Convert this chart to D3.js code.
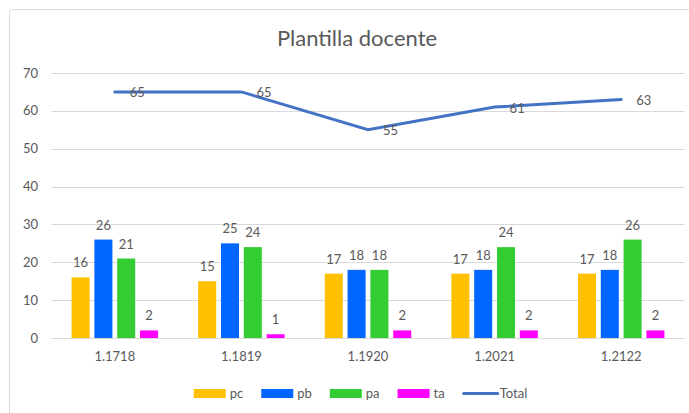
<!DOCTYPE html>
<html>
<head>
<meta charset="utf-8">
<script src="https://cdn.jsdelivr.net/npm/d3@7"></script>
<style>
  body { margin: 0; background: #fff; }
  text { font-family: Lato, "Noto Sans", sans-serif; fill: #595959; }
</style>
</head>
<body>
<script>
/** Data */
const categories = ["1.1718", "1.1819", "1.1920", "1.2021", "1.2122"];
const seriesNames = ["pc", "pb", "pa", "ta"];
const pc = [16, 15, 17, 17, 17];
const pb = [26, 25, 18, 18, 18];
const pa = [21, 24, 18, 24, 26];
const ta = [2, 1, 2, 2, 2];
const total = [65, 65, 55, 61, 63];
const yTicks = [0, 10, 20, 30, 40, 50, 60, 70];

const width = 689;
const height = 413;
const colors = { pc: "#FFC000", pb: "#0066FF", pa: "#33CC33", ta: "#FF00FF", Total: "#4472C4" };
const seriesValues = { pc: pc, pb: pb, pa: pa, ta: ta };

const svg = d3.select("body").append("svg")
  .attr("width", width)
  .attr("height", height);

// chart area border
svg.append("rect")
  .attr("x", 9.5).attr("y", 9.5)
  .attr("width", width + 10).attr("height", height + 10)
  .attr("rx", 3)
  .attr("fill", "#fff")
  .attr("stroke", "#d9d9d9");

svg.append("text")
  .attr("x", 357).attr("y", 46)
  .attr("text-anchor", "middle")
  .attr("font-size", "22px")
  .text("Plantilla docente");

const x0 = d3.scaleBand().domain(categories).range([51.5, 684.5]);
const x1 = d3.scaleBand().domain(seriesNames)
  .range([0, x0.bandwidth()])
  .paddingInner(0.21)
  .paddingOuter(0.88);
const y = d3.scaleLinear().domain([0, 70]).range([338, 73]);

// gridlines
svg.append("g").selectAll("line")
  .data(yTicks)
  .enter().append("line")
  .attr("x1", 51.5).attr("x2", 684.5)
  .attr("y1", d => Math.round(y(d)) + 0.5)
  .attr("y2", d => Math.round(y(d)) + 0.5)
  .attr("stroke", "#d9d9d9");

// y tick labels
svg.append("g").selectAll("text")
  .data(yTicks)
  .enter().append("text")
  .attr("x", 38).attr("y", d => y(d) + 4.5)
  .attr("text-anchor", "end")
  .attr("font-size", "13px")
  .text(d => d);

// category labels
svg.append("g").selectAll("text")
  .data(categories)
  .enter().append("text")
  .attr("x", d => x0(d) + x0.bandwidth() / 2)
  .attr("y", 361)
  .attr("text-anchor", "middle")
  .attr("font-size", "13px")
  .text(d => d);

// bars
const groups = svg.append("g").selectAll("g")
  .data(categories)
  .enter().append("g")
  .attr("transform", d => "translate(" + x0(d) + ",0)");

groups.selectAll("rect")
  .data((c, i) => seriesNames.map(s => ({ s: s, v: seriesValues[s][i] })))
  .enter().append("rect")
  .attr("x", d => x1(d.s))
  .attr("y", d => y(d.v))
  .attr("width", x1.bandwidth())
  .attr("height", d => y(0) - y(d.v))
  .attr("fill", d => colors[d.s]);

groups.selectAll("text")
  .data((c, i) => seriesNames.map(s => ({ s: s, v: seriesValues[s][i] })))
  .enter().append("text")
  .attr("x", d => x1(d.s) + x1.bandwidth() / 2)
  .attr("y", d => y(d.v) - 10)
  .attr("text-anchor", "middle")
  .attr("font-size", "13px")
  .text(d => d.v);

// Total line
const line = d3.line()
  .x((d, i) => x0(categories[i]) + x0.bandwidth() / 2)
  .y(d => y(d));

svg.append("path")
  .datum(total)
  .attr("d", line)
  .attr("fill", "none")
  .attr("stroke", colors.Total)
  .attr("stroke-width", 3)
  .attr("stroke-linecap", "round");

svg.append("g").selectAll("text")
  .data(total)
  .enter().append("text")
  .attr("x", (d, i) => x0(categories[i]) + x0.bandwidth() / 2 + 15)
  .attr("y", d => y(d) + 5.5)
  .attr("font-size", "13px")
  .text(d => d);

// legend
const legend = svg.append("g").attr("id", "legend");
let lx = 0;
seriesNames.concat(["Total"]).forEach(name => {
  if (name === "Total") {
    legend.append("line")
      .attr("x1", lx + 1).attr("x2", lx + 35)
      .attr("y1", 393.5).attr("y2", 393.5)
      .attr("stroke", colors.Total)
      .attr("stroke-width", 3)
      .attr("stroke-linecap", "round");
  } else {
    legend.append("rect")
      .attr("x", lx).attr("y", 389)
      .attr("width", 32).attr("height", 9)
      .attr("fill", colors[name]);
  }
  const t = legend.append("text")
    .attr("x", lx + (name === "Total" ? 37 : 36))
    .attr("y", 398)
    .attr("font-size", "13px")
    .text(name);
  lx += 36 + t.node().getComputedTextLength() + 18;
});
const legendWidth = lx - 18;
legend.attr("transform", "translate(" + (360 - legendWidth / 2) + ",0)");
</script>
</body>
</html>
